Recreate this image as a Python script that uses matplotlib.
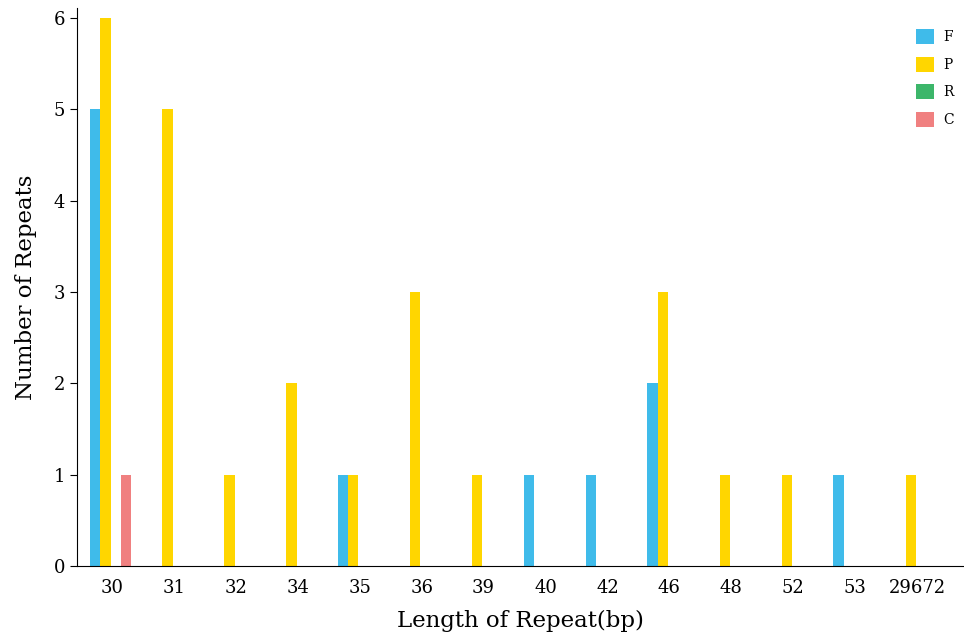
import matplotlib.pyplot as plt
import numpy as np

categories = ["30", "31", "32", "34", "35", "36", "39", "40", "42", "46", "48", "52", "53", "29672"]
f_counts = [5, 0, 0, 0, 1, 0, 0, 1, 1, 2, 0, 0, 1, 0]
p_counts = [6, 5, 1, 2, 1, 3, 1, 0, 0, 3, 1, 1, 0, 1]
r_counts = [0, 0, 0, 0, 0, 0, 0, 0, 0, 0, 0, 0, 0, 0]
c_counts = [1, 0, 0, 0, 0, 0, 0, 0, 0, 0, 0, 0, 0, 0]
series = [("F", f_counts, "#3fbbea"), ("P", p_counts, "#ffd600"),
          ("R", r_counts, "#3cb66a"), ("C", c_counts, "#f08080")]

plt.rcParams["font.family"] = "DejaVu Serif"

fig = plt.figure(figsize=(9.64, 6.4), dpi=100)
ax = fig.add_axes([0.0799, 0.1156, 0.919, 0.872])

x = np.arange(len(categories))
width = 0.167
for i, (name, values, color) in enumerate(series):
    ax.bar(x + (i - 1.5) * width - 0.02, values, width, color=color, label=name)

ax.set_xticks(x)
ax.set_xticklabels(categories, fontsize=13)
ax.tick_params(axis="x", length=0, pad=9)
ax.tick_params(axis="y", labelsize=13, length=5)
ax.set_xlim(-0.565, 13.74)
ax.set_ylim(0, 6.11)
ax.set_yticks(range(7))
ax.spines["top"].set_visible(False)
ax.spines["right"].set_visible(False)
ax.set_xlabel("Length of Repeat(bp)", fontsize=16.5, labelpad=10)
ax.set_ylabel("Number of Repeats", fontsize=16.5, labelpad=12)

ax.legend(loc="upper right", frameon=False, fontsize=10, handlelength=1.3,
          handleheight=1.3, labelspacing=0.9, handletextpad=0.7,
          bbox_to_anchor=(1.004, 0.985))

fig.savefig("out.png", dpi=100)
